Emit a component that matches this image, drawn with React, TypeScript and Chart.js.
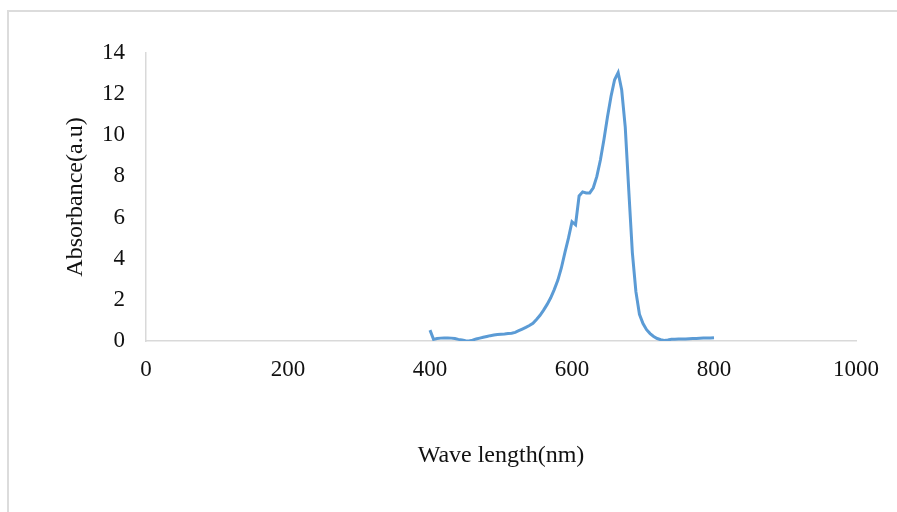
import React, { useEffect, useRef } from "react";
import { Chart, registerables } from "chart.js";

Chart.register(...registerables);

// Absorption spectrum, sampled every 5 nm from 400 to 800 nm
const wavelengths: number[] = [
  400, 405, 410, 415, 420, 425, 430, 435, 440, 445,
  450, 455, 460, 465, 470, 475, 480, 485, 490, 495,
  500, 505, 510, 515, 520, 525, 530, 535, 540, 545,
  550, 555, 560, 565, 570, 575, 580, 585, 590, 595,
  600, 605, 610, 615, 620, 625, 630, 635, 640, 645,
  650, 655, 660, 665, 670, 675, 680, 685, 690, 695,
  700, 705, 710, 715, 720, 725, 730, 735, 740, 745,
  750, 755, 760, 765, 770, 775, 780, 785, 790, 795,
  800,
];

const absorbance: number[] = [
  0.53, 0.08, 0.12, 0.14, 0.15, 0.15, 0.14, 0.12, 0.08, 0.05,
  0.01, 0.0, 0.04, 0.1, 0.14, 0.18, 0.22, 0.26, 0.29, 0.32,
  0.33, 0.34, 0.36, 0.38, 0.42, 0.5, 0.58, 0.66, 0.75, 0.86,
  1.05, 1.25, 1.5, 1.78, 2.1, 2.5, 2.95, 3.55, 4.3, 5.0,
  5.8, 5.65, 7.05, 7.25, 7.2, 7.2, 7.45, 8.0, 8.8, 9.8,
  10.9, 11.9, 12.7, 13.05, 12.2, 10.4, 7.3, 4.3, 2.4, 1.3,
  0.85, 0.55, 0.36, 0.22, 0.12, 0.06, 0.03, 0.05, 0.08, 0.09,
  0.1, 0.1, 0.1, 0.11, 0.12, 0.12, 0.13, 0.14, 0.15, 0.15,
  0.16,
];

const xTicks: number[] = [0, 200, 400, 600, 800, 1000];
const yTicks: number[] = [0, 2, 4, 6, 8, 10, 12, 14];

const xTitle = "Wave length(nm)";
const yTitle = "Absorbance(a.u)";

const FONT = "'Liberation Serif', 'Times New Roman', serif";
const W = 897;
const H = 512;

export default function App() {
  const canvasRef = useRef<HTMLCanvasElement | null>(null);

  useEffect(() => {
    const canvas = canvasRef.current;
    if (!canvas) return;

    const points = wavelengths.map((x, i) => ({ x, y: absorbance[i] }));

    const chart = new Chart(canvas, {
      type: "scatter",
      data: {
        datasets: [
          {
            data: points,
            showLine: true,
            borderColor: "#5b9bd5",
            borderWidth: 3,
            pointRadius: 0,
            pointHoverRadius: 0,
            tension: 0,
            fill: false,
          },
        ],
      },
      options: {
        animation: false,
        responsive: false,
        maintainAspectRatio: false,
        events: [],
        layout: { padding: { left: 0, right: 41, top: 53, bottom: 0 } },
        plugins: {
          legend: { display: false },
          tooltip: { enabled: false },
          title: { display: false },
        },
        scales: {
          x: {
            type: "linear",
            min: xTicks[0],
            max: xTicks[xTicks.length - 1],
            afterBuildTicks: (scale: any) => {
              scale.ticks = xTicks.map((v) => ({ value: v }));
            },
            afterFit: (scale: any) => {
              scale.height = 171;
            },
            grid: { display: false, drawTicks: false },
            border: { display: true, color: "#d9d9d9", width: 1.5 },
            ticks: {
              color: "#111",
              padding: 15,
              maxRotation: 0,
              callback: (v: any) => String(v),
              font: { family: FONT, size: 23 },
            },
            title: {
              display: true,
              text: xTitle,
              color: "#111",
              padding: { top: 0, bottom: 42 },
              font: { family: FONT, size: 24 },
            },
          },
          y: {
            type: "linear",
            min: yTicks[0],
            max: yTicks[yTicks.length - 1],
            afterBuildTicks: (scale: any) => {
              scale.ticks = yTicks.map((v) => ({ value: v }));
            },
            afterFit: (scale: any) => {
              scale.width = 146;
            },
            grid: { display: false, drawTicks: false },
            border: { display: true, color: "#d9d9d9", width: 1.5 },
            ticks: {
              color: "#111",
              padding: 21,
              callback: (v: any) => String(v),
              font: { family: FONT, size: 23 },
            },
            title: {
              display: true,
              text: yTitle,
              color: "#111",
              padding: { top: 61, bottom: 0 },
              font: { family: FONT, size: 24 },
            },
          },
        },
      },
    });

    return () => chart.destroy();
  }, []);

  return (
    <div
      style={{
        position: "absolute",
        left: 0,
        top: 0,
        width: W,
        height: H,
        overflow: "hidden",
        background: "#fff",
      }}
    >
      <div
        style={{
          position: "absolute",
          left: 7,
          top: 10,
          width: W,
          height: H,
          borderLeft: "2px solid #dcdcdc",
          borderTop: "2px solid #dcdcdc",
        }}
      />
      <canvas
        ref={canvasRef}
        width={W}
        height={H}
        style={{ position: "absolute", left: 0, top: 0, width: W, height: H }}
      />
    </div>
  );
}
